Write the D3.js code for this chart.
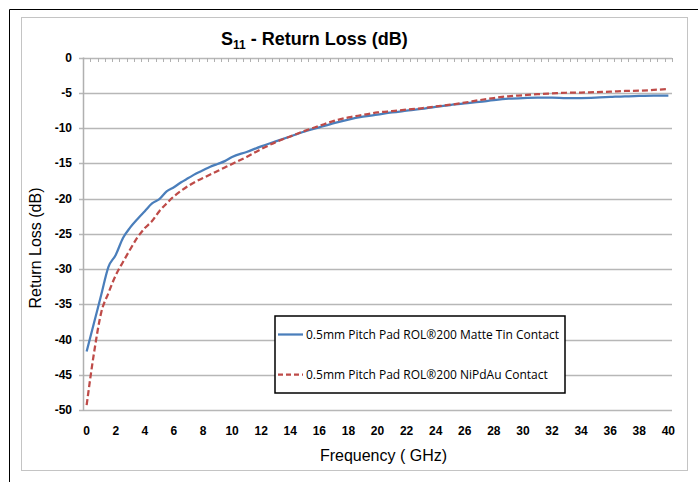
<!DOCTYPE html>
<html><head><meta charset="utf-8">
<script src="https://cdn.jsdelivr.net/npm/d3@7"></script>
<style>html,body{margin:0;padding:0;background:#fff;}svg{display:block;}</style>
</head><body>
<script>
// ---- data ----
const freqs = [0,0.5,1,1.5,2,2.5,3,3.5,4,4.5,5,5.5,6,6.5,7,7.5,8,8.5,9,9.5,10,11,12,13,14,15,16,17,18,19,20,21,22,23,24,25,26,27,28,29,30,31,32,33,34,35,36,37,38,39,40];
const matteTin = [-41.7,-37.7,-33.7,-29.7,-28.0,-25.6,-24.1,-22.9,-21.8,-20.7,-20.1,-19.0,-18.4,-17.7,-17.1,-16.5,-16.0,-15.5,-15.1,-14.7,-14.1,-13.4,-12.6,-11.9,-11.2,-10.5,-9.9,-9.3,-8.8,-8.4,-8.1,-7.8,-7.55,-7.3,-7.0,-6.75,-6.5,-6.3,-6.05,-5.85,-5.75,-5.7,-5.7,-5.75,-5.75,-5.7,-5.6,-5.5,-5.45,-5.4,-5.4];
const niPdAu = [-49.3,-42.0,-36.2,-33.4,-30.9,-29.0,-27.2,-25.5,-24.2,-23.2,-21.8,-20.7,-19.7,-18.9,-18.2,-17.6,-17.1,-16.6,-16.1,-15.6,-15.1,-14.1,-13.0,-12.0,-11.2,-10.4,-9.7,-9.0,-8.5,-8.15,-7.8,-7.6,-7.4,-7.2,-6.95,-6.7,-6.4,-6.05,-5.75,-5.5,-5.35,-5.2,-5.1,-5.0,-4.97,-4.9,-4.85,-4.75,-4.7,-4.6,-4.45];
const xTickLabels = [0,2,4,6,8,10,12,14,16,18,20,22,24,26,28,30,32,34,36,38,40];
const yTickLabels = [0,-5,-10,-15,-20,-25,-30,-35,-40,-45,-50];
const seriesNames = ["0.5mm Pitch Pad ROL\u00AE200 Matte Tin Contact","0.5mm Pitch Pad ROL\u00AE200 NiPdAu Contact"];

const W = 698, H = 482;
const svg = d3.select("body").append("svg").attr("width", W).attr("height", H);

// page / chart frames
svg.append("line").attr("x1",9.5).attr("x2",W).attr("y1",9.5).attr("y2",9.5).attr("stroke","#000").attr("stroke-width",1);
svg.append("line").attr("x1",9.5).attr("x2",9.5).attr("y1",9.5).attr("y2",H).attr("stroke","#000").attr("stroke-width",1);
svg.append("rect").attr("x",21.5).attr("y",17.5).attr("width",666).attr("height",453).attr("fill","#fff").attr("stroke","#c4c4c4").attr("stroke-width",1);

const pLeft = 83, pRight = 672, pTop = 57.5, pBottom = 410;
const x = d3.scaleLinear().domain([-0.25, 40.25]).range([pLeft, pRight]);
const y = d3.scaleLinear().domain([-50, 0]).range([pBottom, pTop]);

// gridlines
svg.append("g").selectAll("line").data(yTickLabels).join("line")
  .attr("x1", pLeft - 4).attr("x2", pRight)
  .attr("y1", d => Math.round(y(d)) + 0.5).attr("y2", d => Math.round(y(d)) + 0.5)
  .attr("stroke", "#b7b7b7").attr("stroke-width", 1.3);
// left axis
svg.append("line").attr("x1", pLeft + 0.5).attr("x2", pLeft + 0.5).attr("y1", pTop).attr("y2", pBottom + 1)
  .attr("stroke", "#b0b0b0").attr("stroke-width", 1.5);
// top axis (x axis crossing at 0) with category tick marks
const catBounds = d3.range(0, 82).map(k => -0.25 + k * 0.5);
svg.append("g").selectAll("line").data(catBounds).join("line")
  .attr("x1", d => Math.round(x(d)) + 0.5).attr("x2", d => Math.round(x(d)) + 0.5)
  .attr("y1", Math.round(y(0))).attr("y2", Math.round(y(0)) + 4)
  .attr("stroke", "#b0b0b0").attr("stroke-width", 1);

// y tick labels
svg.append("g").selectAll("text").data(yTickLabels).join("text")
  .attr("x", 72).attr("y", d => y(d)).attr("dy", "0.35em")
  .attr("text-anchor", "end").attr("font-family", "Liberation Sans, Arial, sans-serif")
  .attr("font-size", 12).attr("font-weight", "bold").attr("fill", "#000").text(d => d);
// x tick labels
svg.append("g").selectAll("text").data(xTickLabels).join("text")
  .attr("x", d => x(d)).attr("y", 434.5)
  .attr("text-anchor", "middle").attr("font-family", "Liberation Sans, Arial, sans-serif")
  .attr("font-size", 12).attr("font-weight", "bold").attr("fill", "#000").text(d => d);

// titles
const title = svg.append("text").attr("x", 221).attr("y", 45)
  .attr("font-family", "Liberation Sans, Arial, sans-serif").attr("font-size", 18).attr("font-weight", "bold").attr("fill", "#000");
title.append("tspan").text("S");
title.append("tspan").attr("font-size", 12).attr("dy", 4).text("11");
title.append("tspan").attr("dy", -4).text(" - Return Loss (dB)");

svg.append("text").attr("x", 383.5).attr("y", 460.5).attr("text-anchor", "middle")
  .attr("font-family", "Liberation Sans, Arial, sans-serif").attr("font-size", 16).attr("fill", "#000")
  .text("Frequency ( GHz)");
svg.append("text").attr("transform", "translate(41,248) rotate(-90)").attr("text-anchor", "middle")
  .attr("font-family", "Liberation Sans, Arial, sans-serif").attr("font-size", 16).attr("fill", "#000")
  .text("Return Loss (dB)");

// lines
const line = d3.line().x(d => x(d[0])).y(d => y(d[1])).curve(d3.curveMonotoneX);
svg.append("path").datum(freqs.map((f, i) => [f, matteTin[i]]))
  .attr("d", line).attr("fill", "none").attr("stroke", "#4a7ebb").attr("stroke-width", 2.25).attr("stroke-linejoin","round");
svg.append("path").datum(freqs.map((f, i) => [f, niPdAu[i]]))
  .attr("d", line).attr("fill", "none").attr("stroke", "#be4b48").attr("stroke-width", 2.25)
  .attr("stroke-dasharray", "6,3");

// legend
const lg = svg.append("g");
lg.append("rect").attr("x", 275).attr("y", 316).attr("width", 290).attr("height", 77)
  .attr("fill", "#fff").attr("stroke", "#000").attr("stroke-width", 1.5);
const legendItems = [{name: seriesNames[0], color: "#4a7ebb", dash: null, cy: 334.5},
                     {name: seriesNames[1], color: "#be4b48", dash: "5,3", cy: 374.5}];
legendItems.forEach(it => {
  lg.append("line").attr("x1", 278).attr("x2", 303).attr("y1", it.cy).attr("y2", it.cy)
    .attr("stroke", it.color).attr("stroke-width", 2.25).attr("stroke-dasharray", it.dash);
  lg.append("text").attr("x", 306).attr("y", it.cy).attr("dy", "0.35em")
    .attr("font-family", "Open Sans, sans-serif").attr("font-size", 12).attr("fill", "#000").text(it.name);
});
</script>
</body></html>
